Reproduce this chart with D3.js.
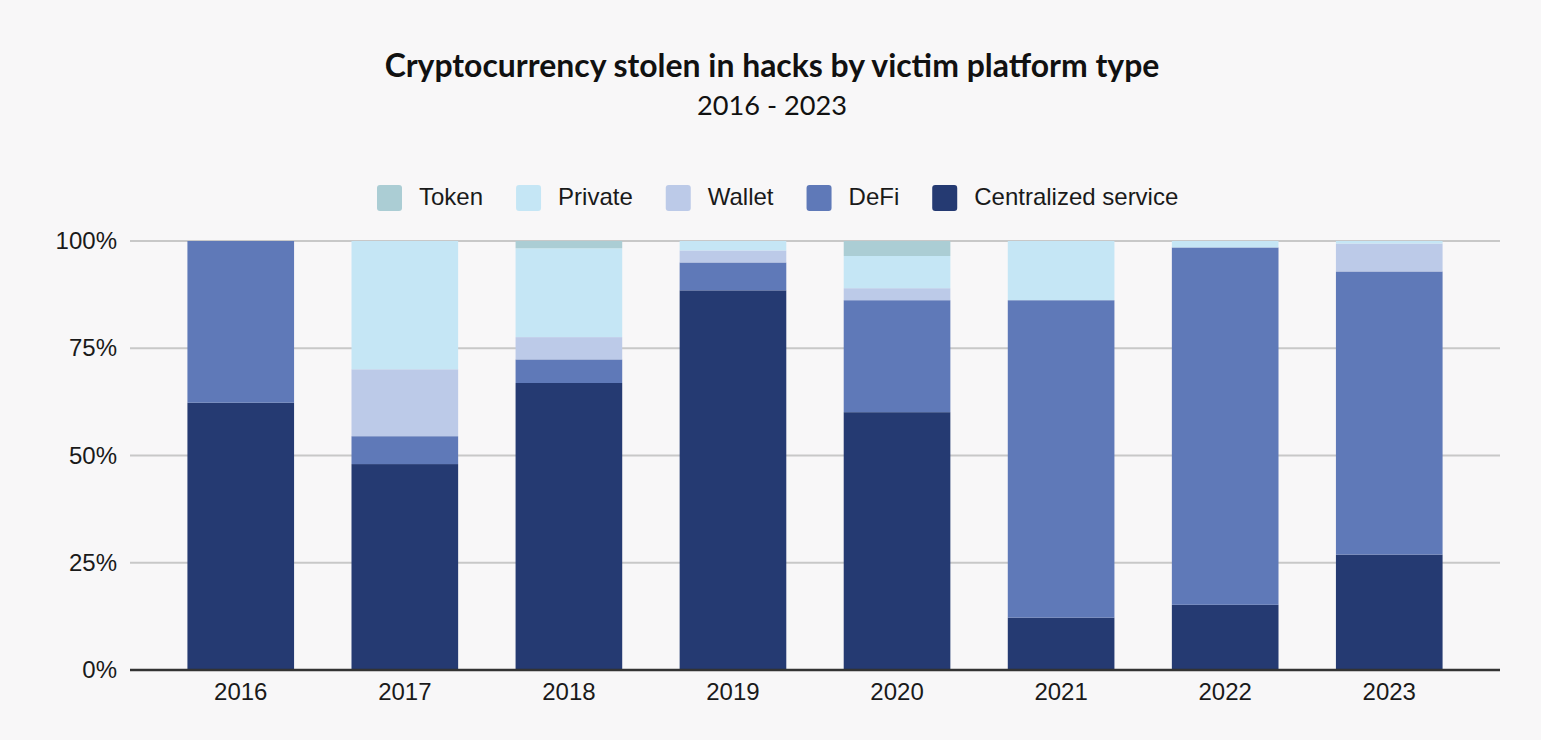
<!DOCTYPE html>
<html>
<head>
<meta charset="utf-8">
<script src="https://cdn.jsdelivr.net/npm/d3@7"></script>
<style>
  html, body { margin: 0; padding: 0; background: #f8f7f8; }
  svg { display: block; }
</style>
</head>
<body>
<svg id="chart" width="1541" height="740"></svg>
<script>
const years = ["2016", "2017", "2018", "2019", "2020", "2021", "2022", "2023"];
const seriesNames = ["Centralized service", "DeFi", "Wallet", "Private", "Token"];
const centralized = [62.3, 48.0, 66.9, 88.5, 60.1, 12.2, 15.2, 26.9];
const defi        = [37.7, 6.5, 5.5, 6.5, 26.1, 74.0, 83.3, 66.0];
const wallet      = [0, 15.6, 5.2, 2.8, 2.8, 0, 0, 6.5];
const privateS    = [0, 29.9, 20.7, 2.2, 7.5, 13.8, 1.5, 0.6];
const token       = [0, 0, 1.7, 0, 3.5, 0, 0, 0];
const yTicks = [0, 25, 50, 75, 100];
const legendOrder = ["Token", "Private", "Wallet", "DeFi", "Centralized service"];
const colors = {
  "Centralized service": "#253a72",
  "DeFi": "#5f79b8",
  "Wallet": "#bccae8",
  "Private": "#c5e6f5",
  "Token": "#abcdd4"
};

const valuesBySeries = {
  "Centralized service": centralized,
  "DeFi": defi,
  "Wallet": wallet,
  "Private": privateS,
  "Token": token
};
const table = years.map((y, i) => {
  const row = { year: y };
  seriesNames.forEach(s => row[s] = valuesBySeries[s][i]);
  return row;
});

const svg = d3.select("#chart");
const W = 1541, H = 740;
const margin = { left: 130, right: 41, top: 241, bottom: 70 };

svg.append("rect").attr("width", W).attr("height", H).attr("fill", "#f8f7f8");

function fitText(sel, target) {
  const len = sel.node().getComputedTextLength();
  const fs = parseFloat(sel.attr("font-size"));
  sel.attr("font-size", fs * target / len);
}
const title = svg.append("text")
  .attr("x", 772).attr("y", 77)
  .attr("text-anchor", "middle")
  .attr("font-family", "Lato, 'Noto Sans', sans-serif")
  .attr("font-weight", 700)
  .attr("font-size", 26)
  .attr("fill", "#111")
  .text("Cryptocurrency stolen in hacks by victim platform type");
fitText(title, 775);

const sub = svg.append("text")
  .attr("x", 772).attr("y", 115)
  .attr("text-anchor", "middle")
  .attr("font-family", "Lato, 'Noto Sans', sans-serif")
  .attr("font-weight", 400)
  .attr("font-size", 24)
  .attr("fill", "#111")
  .text("2016 - 2023");
fitText(sub, 150);

const x = d3.scaleBand().domain(years).range([margin.left, W - margin.right]).padding(0.35);
const y = d3.scaleLinear().domain([0, 100]).range([H - margin.bottom, margin.top]);

// Gridlines
svg.append("g")
  .selectAll("line")
  .data(yTicks.filter(t => t > 0))
  .join("line")
  .attr("x1", margin.left).attr("x2", W - margin.right)
  .attr("y1", d => y(d)).attr("y2", d => y(d))
  .attr("stroke", "#c8c8c8").attr("stroke-width", 2);

// Y axis labels
const yAxis = d3.axisLeft(y).tickValues(yTicks).tickFormat(d => d + "%").tickSize(0).tickPadding(13);
const yg = svg.append("g").attr("transform", `translate(${margin.left},0)`).call(yAxis);
yg.select(".domain").remove();
yg.selectAll("text")
  .attr("font-family", "'Liberation Sans', Arial, sans-serif")
  .attr("font-size", 24)
  .attr("fill", "#1a1a1a");

// Stacked bars
const stack = d3.stack().keys(seriesNames);
const stacked = stack(table);
const barsG = svg.append("g");
stacked.forEach(layer => {
  barsG.append("g")
    .attr("fill", colors[layer.key])
    .selectAll("rect")
    .data(layer.filter(d => d[1] - d[0] > 0))
    .join("rect")
    .attr("x", d => x(d.data.year))
    .attr("width", x.bandwidth())
    .attr("y", d => y(d[1]))
    .attr("height", d => y(d[0]) - y(d[1]));
});

// X axis
const xAxis = d3.axisBottom(x).tickSize(0).tickPadding(13);
const xg = svg.append("g").attr("transform", `translate(0,${H - margin.bottom})`).call(xAxis);
xg.select(".domain").attr("stroke", "#333").attr("stroke-width", 2.5)
  .attr("d", `M${margin.left},0H${W - margin.right}`);
xg.selectAll("text")
  .attr("font-family", "'Liberation Sans', Arial, sans-serif")
  .attr("font-size", 24)
  .attr("fill", "#1a1a1a");

// Legend
const legend = svg.append("g").attr("font-family", "'Liberation Sans', Arial, sans-serif");
let lx = 377;
legendOrder.forEach(name => {
  legend.append("rect")
    .attr("x", lx).attr("y", 185).attr("width", 25).attr("height", 26)
    .attr("rx", 3).attr("fill", colors[name]);
  const t = legend.append("text")
    .attr("x", lx + 42).attr("y", 197).attr("dy", "0.35em")
    .attr("font-size", 24).attr("fill", "#1a1a1a")
    .text(name);
  lx = lx + 42 + t.node().getComputedTextLength() + 33;
});
</script>
</body>
</html>
